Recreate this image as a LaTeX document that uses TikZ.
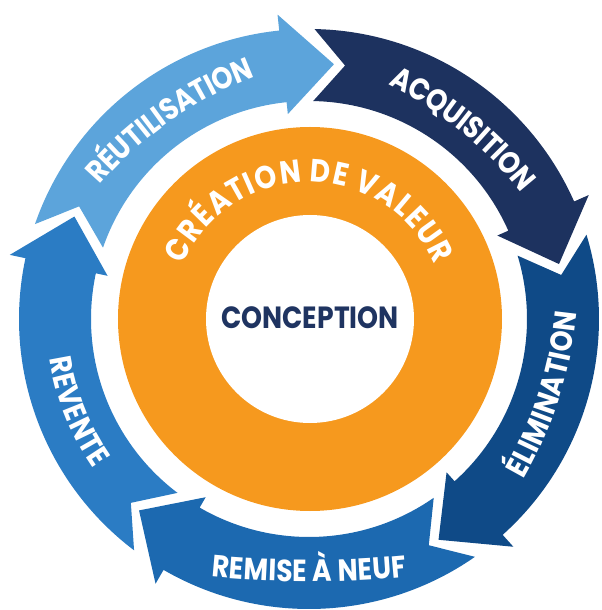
\documentclass[tikz,border=0pt]{standalone}
\usepackage{fontspec}
\setmainfont{Poppins}
\newfontfamily\cyclefont[FakeStretch=0.87]{Poppins}
\usetikzlibrary{decorations.text}

\tikzset{every picture/.style={line width=0.75pt}}
\tikzset{
  reuse/.style={fill={rgb, 255:red, 92; green, 164; blue, 219}},
  acquire/.style={fill={rgb, 255:red, 29; green, 50; blue, 95}},
  dispose/.style={fill={rgb, 255:red, 15; green, 74; blue, 135}},
  refurb/.style={fill={rgb, 255:red, 28; green, 105; blue, 176}},
  resale/.style={fill={rgb, 255:red, 43; green, 124; blue, 196}},
  valuering/.style={fill={rgb, 255:red, 246; green, 153; blue, 30}},
  ringtext/.style={decorate, decoration={text along path, text align=center, raise=-8pt, text color=white}},
}

\newcommand{\labelfont}{\cyclefont\bfseries\fontsize{23}{23}\selectfont}
\newcommand{\valuefont}{\cyclefont\bfseries\fontsize{24}{24}\selectfont}

% one arrow of the cycle: #1 = angle of the tip that ends in its tail, #2 = fill style
\newcommand{\cyclearrow}[2]{%
  \pgfmathsetmacro{\arrTail}{#1+4.5}%
  \pgfmathsetmacro{\arrNotch}{#1-2.5}%
  \pgfmathsetmacro{\arrBase}{#1-60.5}%
  \pgfmathsetmacro{\arrTip}{#1-72}%
  \fill[#2] (\arrTail:290) arc[start angle=\arrTail, end angle=\arrBase, radius=290]
    -- (\arrBase:306) -- (\arrTip:256) -- (\arrBase:206) -- (\arrBase:218)
    arc[start angle=\arrBase, end angle=\arrTail, radius=218] -- (\arrNotch:256) -- cycle;}

% label on a flat arc: #1 = middle angle, #2 = arc radius, #3 = signed half span, #4 = text
\newcommand{\ringlabel}[4]{%
  \pgfmathsetmacro{\lblFrom}{#1+#3}%
  \pgfmathsetmacro{\lblTo}{#1-#3}%
  \pgfmathsetmacro{\lblShift}{252-#2}%
  \path[ringtext, decoration={text={|\labelfont|#4}}]
    ([shift={(#1:\lblShift)}]\lblFrom:#2) arc[start angle=\lblFrom, end angle=\lblTo, radius=#2];}

\begin{document}
\begin{tikzpicture}[x=0.75pt,y=0.75pt]
  \useasboundingbox (-309,-291) rectangle (293,319);

  % outer cycle
  \cyclearrow{156.4}{reuse}
  \cyclearrow{84.4}{acquire}
  \cyclearrow{12.4}{dispose}
  \cyclearrow{-59.6}{refurb}
  \cyclearrow{-131.6}{resale}

  \ringlabel{125}{400}{20}{RÉUTILISATION}
  \ringlabel{51}{400}{20}{ACQUISITION}
  \ringlabel{-17.7}{400}{-20}{ÉLIMINATION}
  \ringlabel{-90}{1000}{-8}{REMISE À NEUF}
  \ringlabel{201.7}{252}{-30}{REVENTE}

  % value ring
  \fill[valuering] (1,0) circle[radius=192];
  \fill[white] (1,0) circle[radius=104];
  \path[decorate, decoration={text along path, text align=center, raise=7.5pt, text color=white,
      text={|\valuefont|CRÉATION DE VALEUR}}]
    (172:127) arc[start angle=172, end angle=8, radius=127];

  \node[text={rgb, 255:red, 31; green, 52; blue, 97}, font=\cyclefont\bfseries\fontsize{23}{23}\selectfont] (conception) at (1,1) {CONCEPTION};
\end{tikzpicture}
\end{document}
